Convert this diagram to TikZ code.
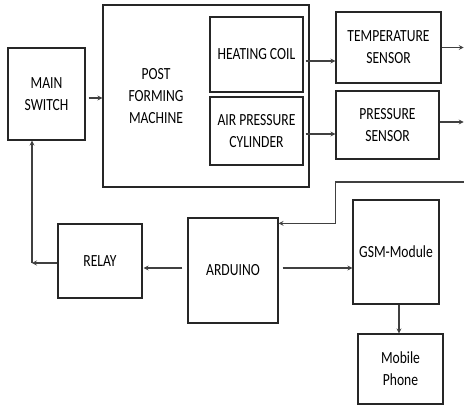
\documentclass[tikz,border=0pt]{standalone}
\usepackage{fontspec}
\setmainfont[FakeStretch=0.8]{Carlito}
\usetikzlibrary{arrows.meta,calc}
\begin{document}
\begin{tikzpicture}[x=1pt,y=-1pt,
  box/.style={draw=black!85,line width=1.3pt,inner sep=0pt,align=center,
    font=\fontsize{17}{22}\selectfont},
  lbl/.style={inner sep=0pt,align=center,font=\fontsize{17}{22}\selectfont},
  arr/.style={draw=black!75,line width=1.3pt,-{Stealth[length=5pt,width=5pt,inset=2pt]}},
  ln/.style={draw=black!75,line width=1.3pt}]
\useasboundingbox (0,0) rectangle (464,410);
\fill[white] (0,0) rectangle (464,410);
% boxes
\node[box,minimum width=77pt,minimum height=92pt] (ms) at (46.5,94) {MAIN\\SWITCH};
\node[box,minimum width=206pt,minimum height=182pt] (pfm) at (206,96) {};
\node[lbl] (pfmt) at (156,96) {POST\\FORMING\\MACHINE};
\node[box,minimum width=93pt,minimum height=75pt] (hc) at (256.5,54.5) {HEATING COIL};
\node[box,minimum width=93pt,minimum height=68pt] (apc) at (256.5,131) {AIR PRESSURE\\CYLINDER};
\node[box,minimum width=105pt,minimum height=71pt] (ts) at (388.5,47.5) {TEMPERATURE\\SENSOR};
\node[box,minimum width=103pt,minimum height=68pt] (ps) at (387.5,125) {PRESSURE\\SENSOR};
\node[box,minimum width=90pt,minimum height=105pt] (ard) at (233,270.5) {ARDUINO};
\node[box,minimum width=84pt,minimum height=74pt] (relay) at (100,261) {RELAY};
\node[box,minimum width=86pt,minimum height=104pt] (gsm) at (396,252) {GSM-Module};
\node[box,minimum width=85pt,minimum height=70pt] (mob) at (400.5,369) {Mobile\\Phone};
% connectors
\coordinate (a1) at ([xshift=3pt,yshift=-4pt]ms.east);
\draw[arr] (a1) -- (a1 -| pfm.west);
\coordinate (a2) at ([xshift=2pt,yshift=-6.5pt]hc.east);
\draw[arr] (a2) -- (a2 -| ts.west);
\coordinate (a3) at ([xshift=2pt,yshift=-3pt]apc.east);
\draw[arr] (a3) -- (a3 -| ps.west);
\coordinate (tsout) at ([xshift=22pt]ts.east);
\draw[arr] (ts.east) -- (tsout);
\coordinate (a4) at ([yshift=3pt]ps.east);
\coordinate (psout) at ([xshift=24pt]a4);
\draw[arr] (a4) -- (psout);
\coordinate (fb) at (464,182);
\draw[arr] (fb) -- (fb -| ps.west) |- ([yshift=-6pt]ard.north east);
\coordinate (a5) at ([xshift=-5pt,yshift=2.5pt]ard.west);
\draw[arr] (a5) -- ([xshift=1pt]a5 -| relay.east);
\coordinate (a6) at ([xshift=4pt,yshift=2.5pt]ard.east);
\draw[arr] (a6) -- (a6 -| gsm.west);
\coordinate (a7) at ([yshift=-2pt]relay.west);
\coordinate (corner) at (32,263);
\draw[arr] (a7) -- (corner);
\draw[arr] (corner) -- (corner |- ms.south);
\coordinate (a8) at ([xshift=3pt]gsm.south);
\draw[arr] (a8) -- (a8 |- mob.north);
\end{tikzpicture}
\end{document}
